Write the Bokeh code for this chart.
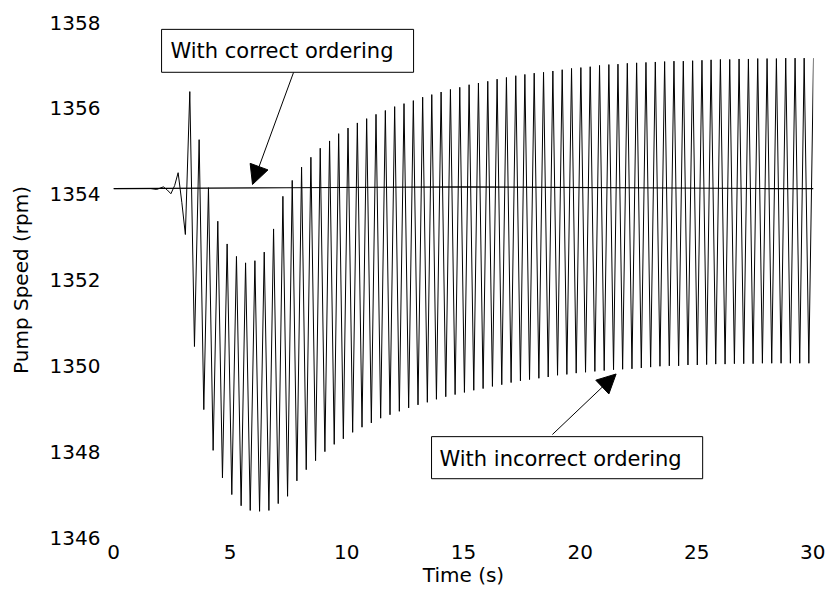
from bokeh.plotting import figure
from bokeh.models import Range1d, FixedTicker, BoxAnnotation, Label, Arrow, NormalHead
from bokeh.embed import file_html
from bokeh.resources import INLINE

# ---------------- data ----------------
x_ticks = [0, 5, 10, 15, 20, 25, 30]
y_ticks = [1346, 1348, 1350, 1352, 1354, 1356, 1358]

# "With correct ordering" trace (nearly flat)
correct_t = [0.0, 7.40, 15.00, 28.00, 30.00]
correct_v = [1354.13, 1354.15, 1354.17, 1354.13, 1354.13]

# "With incorrect ordering" trace: quiet onset before the oscillation
onset_t = [0.00, 1.60, 1.85, 2.14, 2.30, 2.46, 2.62, 2.77, 2.93, 3.08]
onset_v = [1354.13, 1354.13, 1354.11, 1354.17, 1354.10, 1354.01, 1354.20, 1354.50, 1353.80, 1353.06]

# upper turning points of the oscillation
peak_t = [3.27, 3.67, 4.07, 4.47, 4.87, 5.27, 5.66, 6.06, 6.46, 6.86,
          7.26, 7.66, 8.06, 8.46, 8.86, 9.26, 9.65, 10.05, 10.45, 10.85,
          11.25, 11.65, 12.05, 12.45, 12.85, 13.25, 13.64, 14.04, 14.44, 14.84,
          15.24, 15.64, 16.04, 16.44, 16.84, 17.24, 17.63, 18.03, 18.43, 18.83,
          19.23, 19.63, 20.03, 20.43, 20.83, 21.23, 21.62, 22.02, 22.42, 22.82,
          23.22, 23.62, 24.02, 24.42, 24.82, 25.22, 25.61, 26.01, 26.41, 26.81,
          27.21, 27.61, 28.01, 28.41, 28.81, 29.21, 29.60, 30.00]
peak_v = [1356.39, 1355.27, 1354.15, 1353.37, 1352.84, 1352.55, 1352.40, 1352.45, 1352.65, 1353.19,
          1353.95, 1354.32, 1354.63, 1354.86, 1355.07, 1355.24, 1355.41, 1355.54, 1355.66, 1355.76,
          1355.86, 1355.95, 1356.04, 1356.11, 1356.18, 1356.26, 1356.32, 1356.38, 1356.44, 1356.49,
          1356.55, 1356.59, 1356.63, 1356.68, 1356.72, 1356.76, 1356.79, 1356.82, 1356.84, 1356.87,
          1356.90, 1356.93, 1356.95, 1356.97, 1357.00, 1357.02, 1357.03, 1357.05, 1357.06, 1357.07,
          1357.08, 1357.09, 1357.10, 1357.10, 1357.11, 1357.12, 1357.13, 1357.14, 1357.14, 1357.15,
          1357.15, 1357.16, 1357.16, 1357.16, 1357.17, 1357.17, 1357.17, 1357.17]

# lower turning points of the oscillation
trough_t = [3.47, 3.87, 4.27, 4.67, 5.07, 5.47, 5.86, 6.26, 6.66, 7.06,
            7.46, 7.86, 8.26, 8.66, 9.06, 9.46, 9.85, 10.25, 10.65, 11.05,
            11.45, 11.85, 12.25, 12.65, 13.05, 13.45, 13.84, 14.24, 14.64, 15.04,
            15.44, 15.84, 16.24, 16.64, 17.04, 17.44, 17.83, 18.23, 18.63, 19.03,
            19.43, 19.83, 20.23, 20.63, 21.03, 21.43, 21.82, 22.22, 22.62, 23.02,
            23.42, 23.82, 24.22, 24.62, 25.02, 25.42, 25.81, 26.21, 26.61, 27.01,
            27.41, 27.81, 28.21, 28.61, 29.01, 29.41, 29.80]
trough_v = [1350.45, 1348.98, 1348.03, 1347.39, 1347.00, 1346.74, 1346.63, 1346.61, 1346.63, 1346.79,
            1346.96, 1347.32, 1347.58, 1347.79, 1348.00, 1348.17, 1348.30, 1348.45, 1348.57, 1348.67,
            1348.78, 1348.86, 1348.94, 1349.02, 1349.09, 1349.15, 1349.22, 1349.28, 1349.33, 1349.38,
            1349.43, 1349.47, 1349.52, 1349.56, 1349.61, 1349.65, 1349.68, 1349.71, 1349.74, 1349.78,
            1349.80, 1349.83, 1349.85, 1349.87, 1349.89, 1349.91, 1349.92, 1349.93, 1349.95, 1349.97,
            1349.99, 1350.00, 1350.00, 1350.02, 1350.02, 1350.03, 1350.04, 1350.04, 1350.05, 1350.05,
            1350.05, 1350.06, 1350.06, 1350.06, 1350.06, 1350.06, 1350.06]

label_correct = "With correct ordering"
label_incorrect = "With incorrect ordering"

# ---------------- build the incorrect-ordering series ----------------
inc_t = list(onset_t)
inc_v = list(onset_v)
for i in range(len(peak_t)):
    inc_t.append(peak_t[i]); inc_v.append(peak_v[i])
    if i < len(trough_t):
        inc_t.append(trough_t[i]); inc_v.append(trough_v[i])

FONT = "DejaVu Sans"

p = figure(width=825, height=603, output_backend="svg", toolbar_location=None,
           x_range=Range1d(0, 30), y_range=Range1d(1346, 1358),
           min_border_left=113, min_border_right=12, min_border_top=22, min_border_bottom=66)
p.outline_line_color = None
p.xgrid.visible = False
p.ygrid.visible = False

for ax in (p.xaxis, p.yaxis):
    ax.axis_line_color = None
    ax.major_tick_line_color = None
    ax.minor_tick_line_color = None
    ax.major_tick_out = 0
    ax.major_tick_in = 0
    ax.minor_tick_out = 0
    ax.major_label_text_font = FONT
    ax.major_label_text_font_size = "20px"
    ax.major_label_text_color = "black"
    ax.axis_label_text_font = FONT
    ax.axis_label_text_font_size = "20px"
    ax.axis_label_text_font_style = "normal"
    ax.axis_label_text_color = "black"

p.xaxis.ticker = FixedTicker(ticks=x_ticks)
p.yaxis.ticker = FixedTicker(ticks=y_ticks)
p.xaxis.axis_label = "Time (s)"
p.yaxis.axis_label = "Pump Speed (rpm)"
p.xaxis.major_label_standoff = 7
p.yaxis.major_label_standoff = 13
p.xaxis.axis_label_standoff = 1
p.yaxis.axis_label_standoff = 14

p.line(inc_t, inc_v, line_color="black", line_width=1)
p.line(correct_t, correct_v, line_color="black", line_width=1.1)

# annotation boxes
p.add_layout(BoxAnnotation(left=2.06, right=12.86, bottom=1356.84, top=1357.84,
                           fill_color="white", fill_alpha=1,
                           line_color="black", line_alpha=1, line_width=1))
p.add_layout(BoxAnnotation(left=13.63, right=25.25, bottom=1347.37, top=1348.35,
                           fill_color="white", fill_alpha=1,
                           line_color="black", line_alpha=1, line_width=1))
p.add_layout(Label(x=2.44, y=1357.33, text=label_correct, text_font=FONT,
                   text_font_size="21px", text_baseline="middle", text_color="black"))
p.add_layout(Label(x=13.97, y=1347.84, text=label_incorrect, text_font=FONT,
                   text_font_size="21px", text_baseline="middle", text_color="black"))

p.add_layout(Arrow(end=NormalHead(size=19, fill_color="black", line_color="black"),
                   x_start=7.715, y_start=1356.835, x_end=5.958, y_end=1354.226,
                   line_color="black", line_width=1))
p.add_layout(Arrow(end=NormalHead(size=19, fill_color="black", line_color="black"),
                   x_start=18.81, y_start=1348.40, x_end=21.54, y_end=1349.81,
                   line_color="black", line_width=1))

open("out.html", "w").write(file_html(p, INLINE))
